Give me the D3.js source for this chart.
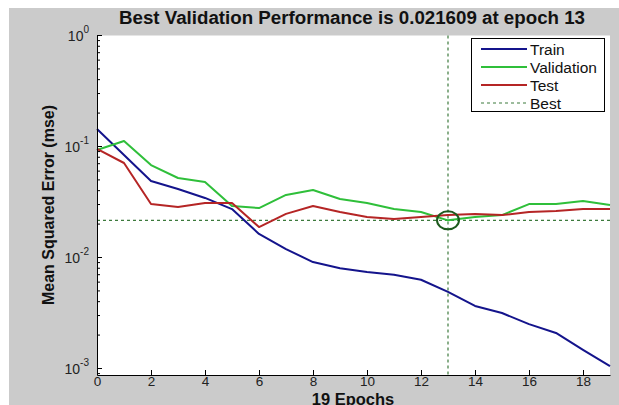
<!DOCTYPE html>
<html><head><meta charset="utf-8">
<script src="https://cdn.jsdelivr.net/npm/d3@7"></script>
<style>body{margin:0;background:#fff}svg{display:block}text{font-family:"Liberation Sans",Arial,sans-serif}</style>
</head><body>
<script>
const epochs = d3.range(0, 20);
const trainVals = [0.144,0.0838,0.0489,0.0414,0.0344,0.0273,0.0163,0.0119,0.0091,0.0080,0.0074,0.0070,0.0063,0.0049,0.00366,0.00316,0.00251,0.00209,0.00147,0.00105];
const validVals = [0.093,0.112,0.068,0.052,0.0479,0.0291,0.0279,0.0366,0.0406,0.0337,0.031,0.0273,0.0257,0.021609,0.0232,0.0241,0.0303,0.0303,0.0323,0.0297];
const testVals  = [0.095,0.071,0.0303,0.0285,0.031,0.031,0.0188,0.0247,0.0291,0.0257,0.0232,0.0222,0.0232,0.0241,0.0247,0.0241,0.0257,0.0263,0.0273,0.0273];
const bestEpoch = 13;
const bestValue = 0.021609;
const xTicks = [0,2,4,6,8,10,12,14,16,18];
const yTicks = [1e-3,1e-2,1e-1,1e0];
const yExps = [-3,-2,-1,0];
const seriesNames = ["Train","Validation","Test","Best"];
const seriesColors = ["#14148c","#2fbf3a","#b52525","#3d7a3d"];

const W = 619, H = 405;
const svg = d3.select("body").append("svg").attr("width", W).attr("height", H);
svg.append("rect").attr("x",9).attr("y",8).attr("width",W-9).attr("height",H-8).attr("fill","#cbcbcb");

const pL = 97, pR = 610, pT = 35.5, pB = 375;
const x = d3.scaleLinear().domain([0,19]).range([pL,pR]);
const y = d3.scaleLog().domain([Math.pow(10,-(pB-pT)/111), 1]).range([pB, pT]);

svg.append("rect").attr("x",pL).attr("y",pT).attr("width",pR-pL).attr("height",pB-pT).attr("fill","#fff");

svg.append("text").attr("x",352).attr("y",24).attr("text-anchor","middle")
  .attr("font-weight","bold").attr("font-size",18).attr("fill","#111")
  .attr("textLength",466).attr("lengthAdjust","spacingAndGlyphs")
  .text("Best Validation Performance is 0.021609 at epoch 13");

const line = d3.line().x((d,i)=>x(epochs[i])).y(d=>y(d));
const g = svg.append("g");
g.append("line").attr("x1",pL).attr("x2",pR).attr("y1",y(bestValue)).attr("y2",y(bestValue))
  .attr("stroke",seriesColors[3]).attr("stroke-width",1.2).attr("stroke-dasharray","3,3");
g.append("line").attr("x1",x(bestEpoch)).attr("x2",x(bestEpoch)).attr("y1",pT).attr("y2",pB)
  .attr("stroke",seriesColors[3]).attr("stroke-width",1.2).attr("stroke-dasharray","3,3");
[trainVals, validVals, testVals].forEach((vals,k)=>{
  g.append("path").attr("d", line(vals)).attr("fill","none")
    .attr("stroke",seriesColors[k]).attr("stroke-width",2).attr("stroke-linejoin","round");
});
g.append("ellipse").attr("cx",x(bestEpoch)).attr("cy",y(bestValue)).attr("rx",11).attr("ry",9)
  .attr("fill","none").attr("stroke","#1d5a1d").attr("stroke-width",2);

const xAxis = d3.axisBottom(x).tickValues(xTicks).tickSizeInner(-5).tickSizeOuter(0).tickPadding(1).tickFormat(d3.format("d"));
const xg = svg.append("g").attr("transform",`translate(0,${pB})`).call(xAxis);
xg.select(".domain").attr("stroke","#000");
xg.selectAll("text").attr("font-size",13.5).attr("fill","#222").attr("font-family","Liberation Sans, Arial");

const minor = [];
for (let e=-4; e<0; e++) for (let m=1; m<10; m++) { const v = m*Math.pow(10,e); if (v>=y.domain()[0] && v<=1) minor.push(v); }
minor.push(1);
const yAxis = d3.axisLeft(y).tickValues(minor).tickSize(0).tickFormat("");
const yg = svg.append("g").attr("transform",`translate(${pL},0)`).call(yAxis);
yg.select(".domain").attr("stroke","#000");
yg.selectAll(".tick line").remove();
minor.forEach(v=>{
  const isMajor = yTicks.some(t=>Math.abs(t-v)/t<1e-6);
  yg.append("line").attr("x1",0).attr("x2",isMajor?5:3).attr("y1",y(v)).attr("y2",y(v)).attr("stroke","#000");
});
yTicks.forEach((t,i)=>{
  const tx = yg.append("text").attr("x",-8).attr("y",y(t)+5).attr("text-anchor","end").attr("fill","#222").attr("font-size",14);
  tx.append("tspan").text("10");
  tx.append("tspan").attr("dy",-8).attr("font-size",10).text(String(yExps[i]));
});

svg.append("text").attr("x",353).attr("y",404.5).attr("text-anchor","middle").attr("font-weight","bold")
  .attr("font-size",16.5).attr("fill","#111").text("19 Epochs");
svg.append("text").attr("transform","translate(54,205) rotate(-90)").attr("text-anchor","middle")
  .attr("font-weight","bold").attr("font-size",16).attr("fill","#111").text("Mean Squared Error  (mse)");

const lg = svg.append("g");
lg.append("rect").attr("x",471.5).attr("y",38.5).attr("width",133).attr("height",73).attr("fill","#fff").attr("stroke","#000");
seriesNames.forEach((n,i)=>{
  const yy = 49 + i*18;
  lg.append("line").attr("x1",481).attr("x2",527).attr("y1",yy).attr("y2",yy)
    .attr("stroke",seriesColors[i]).attr("stroke-width", i===3?1.2:2).attr("stroke-dasharray", i===3?"3,3":null);
  lg.append("text").attr("x",530).attr("y",yy+5.5).attr("font-size",15.5).attr("fill","#111").text(n);
});
</script>
</body></html>
